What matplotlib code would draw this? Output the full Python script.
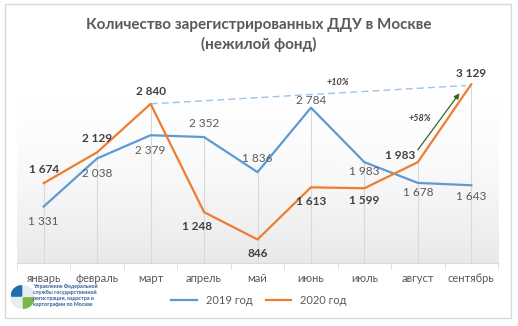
import numpy as np
import matplotlib.pyplot as plt
from matplotlib.patches import Rectangle, Wedge, Circle

plt.rcParams['font.family'] = ['Lato', 'DejaVu Sans']

months = ['январь', 'февраль', 'март', 'апрель', 'май', 'июнь', 'июль', 'август', 'сентябрь']
y2019 = [1331, 2038, 2379, 2352, 1836, 2784, 1983, 1678, 1643]
y2020 = [1674, 2129, 2840, 1248, 846, 1613, 1599, 1983, 3129]

# смещения подписей (в пунктах)
off2019 = [(0, -11), (0, -11), (0, -11), (0, 10), (0, 10), (0, 5), (0, -7), (0, -7), (0, -8)]
off2020 = [(0, 10), (0, 10), (0, 9), (-5, -10), (0, -10), (0, -10), (0, -9), (-13, 5), (0, 8)]

blue = '#5b9bd5'
orange = '#ed7d31'
txt = '#595959'

fig = plt.figure(figsize=(5.18, 3.26), dpi=100)
fig.patches.append(Rectangle((5 / 518, 8 / 326), 506 / 518, 314 / 326, transform=fig.transFigure,
                             fill=False, edgecolor='#d9d9d9', linewidth=1))

ax = fig.add_axes([17 / 518, 63 / 326, 481 / 518, 204 / 326])
x = np.arange(len(months))
ax.set_xlim(-0.5, 8.5)
ax.set_ylim(500, 3500)

# фон области построения с лёгким градиентом
grad = np.linspace(0, 1, 256).reshape(-1, 1) ** 2
ax.imshow(1 - grad * 0.09, extent=(-0.5, 8.5, 500, 3500), aspect='auto', cmap='gray',
          vmin=0, vmax=1, origin='upper', zorder=0)

# линии проекции
for i in x:
    ax.plot([i, i], [500, max(y2019[i], y2020[i])], color='#d9d9d9', lw=0.8, zorder=1)

ax.plot(x, y2019, color=blue, lw=1.6, label='2019 год', zorder=3)
ax.plot(x, y2020, color=orange, lw=1.6, label='2020 год', zorder=3)

for i in x:
    ax.annotate(f'{y2019[i]:,}'.replace(',', ' '), (i, y2019[i]), xytext=off2019[i],
                textcoords='offset points', ha='center', va='center', fontsize=8.5, color=txt)
    ax.annotate(f'{y2020[i]:,}'.replace(',', ' '), (i, y2020[i]), xytext=off2020[i],
                textcoords='offset points', ha='center', va='center', fontsize=8.5,
                color='#404040', fontweight='bold')

# рост относительно марта и августа
ax.plot([2, 7.9], [2840, 3110], color='#9dc3e6', lw=1, ls=(0, (5, 3)), zorder=2)
ax.text(5.5, 3150, '+10%', fontsize=6.5, style='italic', fontweight='bold', color='#404040',
        ha='center', va='center')
ax.annotate('', xy=(7.81, 3029), xytext=(6.97, 2132),
            arrowprops=dict(arrowstyle='-|>', color='#38612a', lw=0.9, mutation_scale=8))
ax.text(7.03, 2620, '+58%', fontsize=6.5, style='italic', fontweight='bold', color='#404040',
        ha='center', va='center')

for s in ['top', 'right', 'left']:
    ax.spines[s].set_visible(False)
ax.spines['bottom'].set_color('#d9d9d9')
ax.set_yticks([])
ax.set_xticks(x)
ax.set_xticklabels(months, fontsize=8, color=txt)
ax.tick_params(axis='x', length=0, pad=7)
ax.set_xticks(np.arange(-0.5, 9, 1), minor=True)
ax.tick_params(axis='x', which='minor', length=4, color='#d9d9d9')

fig.text(0.5, 1 - 35 / 326, 'Количество зарегистрированных ДДУ в Москве\n(нежилой фонд)',
         ha='center', va='center', fontsize=11, fontweight='bold', color=txt, linespacing=1.35)

fig.legend(loc='center', bbox_to_anchor=(0.5, 1 - 300 / 326), ncol=2, frameon=False,
           fontsize=8, handlelength=2.3, columnspacing=1.2, labelcolor=txt)

# логотип
lax = fig.add_axes([11 / 518, 13 / 326, 23 / 518, 32 / 326])
lax.set_xlim(-1, 1)
lax.set_ylim(-1.4, 1.4)
lax.set_aspect('equal')
lax.axis('off')
lax.add_patch(Circle((0, 0), 1, color='#e7ecef'))
lax.add_patch(Wedge((-0.08, 0.08), 0.9, 90, 180, color='#1f6fb2'))
lax.add_patch(Wedge((0.08, -0.08), 0.9, 270, 360, color='#7ab648'))
fig.text(33 / 518, 1 - 295 / 326,
         'Управление Федеральной\nслужбы государственной\nрегистрации, кадастра и\nкартографии по Москве',
         fontsize=3.8, color='#2e5b9a', fontweight='bold', va='center', ha='left', linespacing=1.25)

fig.savefig('out.png', dpi=100)
